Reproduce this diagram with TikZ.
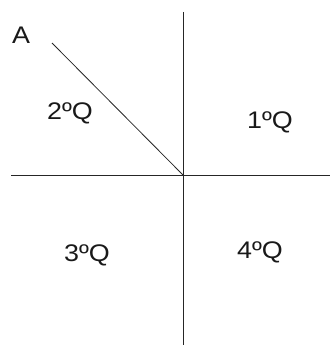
\documentclass[tikz,border=0pt]{standalone}
\usepackage{fontspec}
\setmainfont{Liberation Sans}[FakeStretch=1.12]
\begin{document}
\begin{tikzpicture}[x=1pt,y=-1pt,
  axis/.style={line width=1pt,draw=black!85},
  lbl/.style={font=\fontsize{24}{24}\selectfont,inner sep=0pt,text=black!90}]
\useasboundingbox (0,0) rectangle (330,345);
\coordinate (O) at (183,175);
\coordinate (top) at (183,12);
\coordinate (bot) at (183,345);
\coordinate (left) at (11,175);
\coordinate (right) at (330,175);
\coordinate (dA) at (52,43);
\draw[axis] (top) -- (bot);
\draw[axis] (left) -- (right);
\draw[axis,line width=0.8pt] (dA) -- (O);
\node[lbl] (A) at (21,35) {A};
\node[lbl] (q2) at (70,113) {2ºQ};
\node[lbl] (q1) at (270,122) {1ºQ};
\node[lbl] (q3) at (87,255) {3ºQ};
\node[lbl] (q4) at (260,252) {4ºQ};
\end{tikzpicture}
\end{document}
